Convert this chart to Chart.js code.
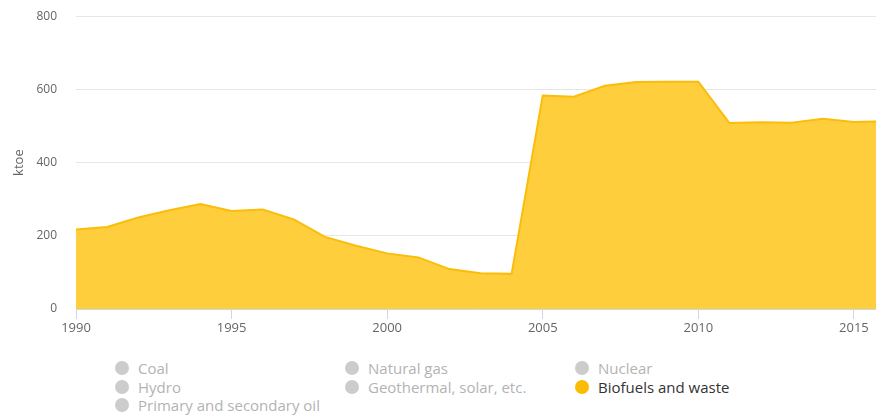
<!DOCTYPE html>
<html>
<head>
<meta charset="utf-8">
<script src="https://cdn.jsdelivr.net/npm/chart.js@4/dist/chart.umd.min.js"></script>
<style>
  html, body { margin: 0; padding: 0; background: #fff; }
  body { width: 876px; height: 417px; position: relative; overflow: hidden; font-family: "Open Sans", sans-serif; }
  #wrap { position: absolute; left: 0; top: -10px; width: 876px; height: 350px; }
  #legend { position: absolute; left: 0; top: 358px; width: 876px; }
  .item { position: absolute; font-size: 15px; color: #b3b3b3; white-space: nowrap; line-height: 20px; }
  .item .dot { position: absolute; left: -23px; top: 3px; width: 14px; height: 14px; border-radius: 50%; background: #ccc; }
  .item.on { color: #333; }
</style>
</head>
<body>
<div id="wrap"><canvas id="chart"></canvas></div>
<div id="legend"></div>
<script>
// Biofuels and waste, ktoe per year
const years = [1990, 1991, 1992, 1993, 1994, 1995, 1996, 1997, 1998, 1999,
               2000, 2001, 2002, 2003, 2004, 2005, 2006, 2007, 2008, 2009,
               2010, 2011, 2012, 2013, 2014, 2015, 2016];
const biofuels = [217, 224, 250, 270, 287, 268, 272, 245, 197, 173,
                  152, 141, 109, 98, 96, 583, 580, 610, 620, 621,
                  621, 508, 510, 509, 520, 511, 513];
const yearTicks = [1990, 1995, 2000, 2005, 2010, 2015];

// legend entries: only the biofuels series is switched on
const seriesNames = ['Coal', 'Natural gas', 'Nuclear', 'Hydro', 'Geothermal, solar, etc.',
                     'Biofuels and waste', 'Primary and secondary oil'];
const activeSeries = 'Biofuels and waste';

const legend = document.getElementById('legend');
const colX = [138, 368, 598];
seriesNames.forEach((name, i) => {
    const el = document.createElement('div');
    el.className = 'item' + (name === activeSeries ? ' on' : '');
    el.style.left = colX[i % 3] + 'px';
    el.style.top = (Math.floor(i / 3) * 18.7) + 'px';
    const dot = document.createElement('span');
    dot.className = 'dot';
    if (name === activeSeries) dot.style.background = '#fbbc05';
    el.appendChild(dot);
    el.appendChild(document.createTextNode(name));
    legend.appendChild(el);
});

new Chart(document.getElementById('chart'), {
    type: 'line',
    data: {
        datasets: [{
            label: activeSeries,
            data: years.map((y, i) => ({ x: y, y: biofuels[i] })),
            borderColor: '#fbbd0a',
            backgroundColor: '#ffce3d',
            borderWidth: 2,
            fill: 'origin',
            pointRadius: 0,
            tension: 0
        }]
    },
    options: {
        responsive: true,
        maintainAspectRatio: false,
        animation: false,
        layout: { padding: { top: 5, right: 0, left: 0, bottom: 0 } },
        plugins: { legend: { display: false }, tooltip: { enabled: false } },
        scales: {
            x: {
                type: 'linear',
                min: 1990,
                max: 2015.71,
                afterBuildTicks: axis => { axis.ticks = yearTicks.map(v => ({ value: v })); },
                afterFit: axis => { axis.height = 31; },
                grid: { drawOnChartArea: false, color: '#ccd6eb', tickLength: 10 },
                border: { color: '#ccd6eb' },
                ticks: {
                    color: '#666',
                    padding: 1,
                    maxRotation: 0,
                    font: { family: 'Open Sans', size: 13 },
                    callback: v => String(v)
                }
            },
            y: {
                min: 0,
                max: 800,
                afterFit: axis => { axis.width = 76; },
                grid: { color: '#e6e6e6', drawTicks: false },
                border: { display: false },
                ticks: {
                    stepSize: 200,
                    color: '#666',
                    padding: 19,
                    font: { family: 'Open Sans', size: 12 }
                },
                title: {
                    display: true,
                    text: 'ktoe',
                    color: '#666',
                    padding: { top: 11, bottom: 0 },
                    font: { family: 'Open Sans', size: 13 }
                }
            }
        }
    }
});
</script>
</body>
</html>
